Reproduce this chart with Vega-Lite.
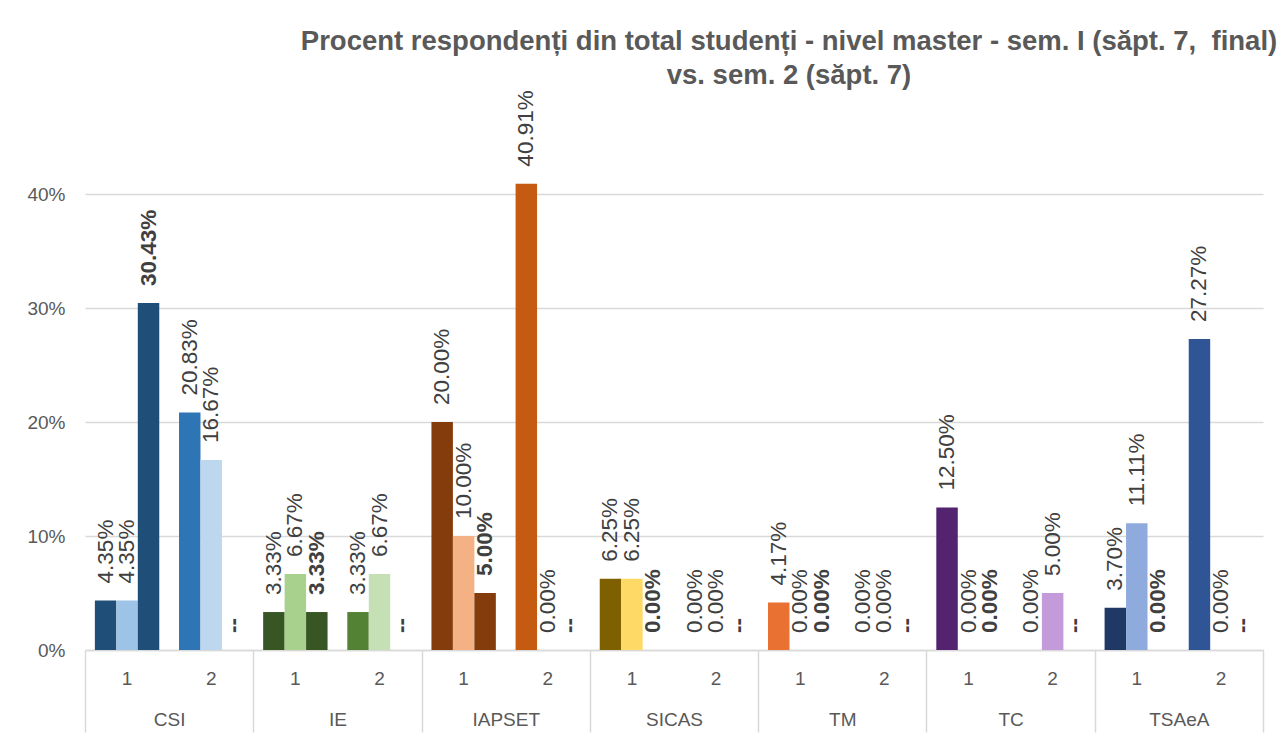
{
  "$schema": "https://vega.github.io/schema/vega-lite/v6.json",
  "width": 1178,
  "height": 570,
  "autosize": {"type": "none"},
  "padding": {"left": 85, "top": 80, "right": 20, "bottom": 90},
  "background": "white",
  "config": {"view": {"stroke": null}, "font": "Liberation Sans"},
  "title": {
    "text": ["Procent respondenți din total studenți - nivel master - sem. I (săpt. 7, \u00a0final)", "vs. sem. 2 (săpt. 7)"],
    "fontSize": 27.5,
    "fontWeight": "bold",
    "color": "#595959",
    "anchor": "middle",
    "frame": "group",
    "dx": 115,
    "lineHeight": 34,
    "offset": -9
  },
  "data": {
    "values": [
      {"dept": "CSI", "year": "1", "series": "Sem. I - săpt. 7", "value": 0.0435},
      {"dept": "CSI", "year": "1", "series": "Sem. I - final", "value": 0.0435},
      {"dept": "CSI", "year": "1", "series": "Sem. 2 - săpt. 7", "value": 0.3043},
      {"dept": "CSI", "year": "2", "series": "Sem. I - săpt. 7", "value": 0.2083},
      {"dept": "CSI", "year": "2", "series": "Sem. I - final", "value": 0.1667},
      {"dept": "CSI", "year": "2", "series": "Sem. 2 - săpt. 7", "value": null},
      {"dept": "IE", "year": "1", "series": "Sem. I - săpt. 7", "value": 0.0333},
      {"dept": "IE", "year": "1", "series": "Sem. I - final", "value": 0.0667},
      {"dept": "IE", "year": "1", "series": "Sem. 2 - săpt. 7", "value": 0.0333},
      {"dept": "IE", "year": "2", "series": "Sem. I - săpt. 7", "value": 0.0333},
      {"dept": "IE", "year": "2", "series": "Sem. I - final", "value": 0.0667},
      {"dept": "IE", "year": "2", "series": "Sem. 2 - săpt. 7", "value": null},
      {"dept": "IAPSET", "year": "1", "series": "Sem. I - săpt. 7", "value": 0.20},
      {"dept": "IAPSET", "year": "1", "series": "Sem. I - final", "value": 0.10},
      {"dept": "IAPSET", "year": "1", "series": "Sem. 2 - săpt. 7", "value": 0.05},
      {"dept": "IAPSET", "year": "2", "series": "Sem. I - săpt. 7", "value": 0.4091},
      {"dept": "IAPSET", "year": "2", "series": "Sem. I - final", "value": 0},
      {"dept": "IAPSET", "year": "2", "series": "Sem. 2 - săpt. 7", "value": null},
      {"dept": "SICAS", "year": "1", "series": "Sem. I - săpt. 7", "value": 0.0625},
      {"dept": "SICAS", "year": "1", "series": "Sem. I - final", "value": 0.0625},
      {"dept": "SICAS", "year": "1", "series": "Sem. 2 - săpt. 7", "value": 0},
      {"dept": "SICAS", "year": "2", "series": "Sem. I - săpt. 7", "value": 0},
      {"dept": "SICAS", "year": "2", "series": "Sem. I - final", "value": 0},
      {"dept": "SICAS", "year": "2", "series": "Sem. 2 - săpt. 7", "value": null},
      {"dept": "TM", "year": "1", "series": "Sem. I - săpt. 7", "value": 0.0417},
      {"dept": "TM", "year": "1", "series": "Sem. I - final", "value": 0},
      {"dept": "TM", "year": "1", "series": "Sem. 2 - săpt. 7", "value": 0},
      {"dept": "TM", "year": "2", "series": "Sem. I - săpt. 7", "value": 0},
      {"dept": "TM", "year": "2", "series": "Sem. I - final", "value": 0},
      {"dept": "TM", "year": "2", "series": "Sem. 2 - săpt. 7", "value": null},
      {"dept": "TC", "year": "1", "series": "Sem. I - săpt. 7", "value": 0.125},
      {"dept": "TC", "year": "1", "series": "Sem. I - final", "value": 0},
      {"dept": "TC", "year": "1", "series": "Sem. 2 - săpt. 7", "value": 0},
      {"dept": "TC", "year": "2", "series": "Sem. I - săpt. 7", "value": 0},
      {"dept": "TC", "year": "2", "series": "Sem. I - final", "value": 0.05},
      {"dept": "TC", "year": "2", "series": "Sem. 2 - săpt. 7", "value": null},
      {"dept": "TSAeA", "year": "1", "series": "Sem. I - săpt. 7", "value": 0.037},
      {"dept": "TSAeA", "year": "1", "series": "Sem. I - final", "value": 0.1111},
      {"dept": "TSAeA", "year": "1", "series": "Sem. 2 - săpt. 7", "value": 0},
      {"dept": "TSAeA", "year": "2", "series": "Sem. I - săpt. 7", "value": 0.2727},
      {"dept": "TSAeA", "year": "2", "series": "Sem. I - final", "value": 0},
      {"dept": "TSAeA", "year": "2", "series": "Sem. 2 - săpt. 7", "value": null}
    ]
  },
  "transform": [
    {"calculate": "datum.dept + '|' + datum.year", "as": "dk"},
    {"calculate": "datum.dept + ' ' + datum.year + ' ' + datum.series", "as": "ck"},
    {"calculate": "datum.value == null ? '--' : format(datum.value, '.2%')", "as": "lbl"},
    {"calculate": "datum.value == null ? 0 : datum.value", "as": "ypos"}
  ],
  "layer": [
    {
      "encoding": {
        "x": {
          "field": "dk", "type": "nominal", "sort": null,
          "scale": {"paddingInner": 0, "paddingOuter": 0},
          "axis": {
            "title": null, "orient": "bottom", "labelExpr": "split(datum.label, '|')[1]",
            "labelAngle": 0, "labelPadding": 19, "labelFontSize": 19, "labelColor": "#595959",
            "ticks": false, "domain": true, "domainColor": "#D9D9D9", "domainWidth": 1.5, "grid": false
          }
        },
        "xOffset": {
          "field": "series", "type": "nominal",
          "sort": ["Sem. I - săpt. 7", "Sem. I - final", "Sem. 2 - săpt. 7"],
          "scale": {"paddingInner": 0, "paddingOuter": 0.46}
        }
      },
      "layer": [
        {
          "mark": {"type": "bar"},
          "encoding": {
            "y": {
              "field": "value", "type": "quantitative",
              "scale": {"domain": [0, 0.5], "nice": false},
              "axis": {
                "title": null, "values": [0, 0.1, 0.2, 0.3, 0.4], "format": ".0%",
                "grid": true, "gridColor": "#D9D9D9", "gridWidth": 1.5,
                "domain": false, "ticks": false, "labelPadding": 20,
                "labelFontSize": 19, "labelColor": "#595959"
              }
            },
            "color": {
              "field": "ck", "type": "nominal", "legend": null,
              "scale": {
                "domain": [
                  "CSI 1 Sem. I - săpt. 7", "CSI 1 Sem. I - final", "CSI 1 Sem. 2 - săpt. 7",
                  "CSI 2 Sem. I - săpt. 7", "CSI 2 Sem. I - final",
                  "IE 1 Sem. I - săpt. 7", "IE 1 Sem. I - final", "IE 1 Sem. 2 - săpt. 7",
                  "IE 2 Sem. I - săpt. 7", "IE 2 Sem. I - final",
                  "IAPSET 1 Sem. I - săpt. 7", "IAPSET 1 Sem. I - final", "IAPSET 1 Sem. 2 - săpt. 7",
                  "IAPSET 2 Sem. I - săpt. 7",
                  "SICAS 1 Sem. I - săpt. 7", "SICAS 1 Sem. I - final",
                  "TM 1 Sem. I - săpt. 7",
                  "TC 1 Sem. I - săpt. 7", "TC 2 Sem. I - final",
                  "TSAeA 1 Sem. I - săpt. 7", "TSAeA 1 Sem. I - final",
                  "TSAeA 2 Sem. I - săpt. 7"
                ],
                "range": [
                  "#1F4E79", "#9DC3E6", "#1F4E79",
                  "#2E75B6", "#BDD7EE",
                  "#375623", "#A9D18E", "#375623",
                  "#548235", "#C5E0B4",
                  "#843C0C", "#F4B183", "#843C0C",
                  "#C55A11",
                  "#7F6000", "#FFD966",
                  "#E97132",
                  "#532370", "#C39BDB",
                  "#203864", "#8FAADC",
                  "#2F5597"
                ]
              }
            }
          }
        },
        {
          "transform": [{"filter": "datum.series != 'Sem. 2 - săpt. 7'"}],
          "mark": {"type": "text", "angle": 270, "align": "left", "baseline": "middle", "dx": 17, "fontSize": 22.5, "color": "#404040"},
          "encoding": {
            "y": {"field": "ypos", "type": "quantitative"},
            "text": {"field": "lbl", "type": "nominal"}
          }
        },
        {
          "transform": [{"filter": "datum.series == 'Sem. 2 - săpt. 7'"}],
          "mark": {"type": "text", "angle": 270, "align": "left", "baseline": "middle", "dx": 17, "fontSize": 22.5, "fontWeight": "bold", "color": "#404040"},
          "encoding": {
            "y": {"field": "ypos", "type": "quantitative"},
            "text": {"field": "lbl", "type": "nominal"}
          }
        }
      ]
    },
    {
      "mark": {"type": "point", "opacity": 0},
      "encoding": {
        "x": {
          "field": "dept", "type": "nominal", "sort": null,
          "scale": {"paddingInner": 0, "paddingOuter": 0},
          "axis": {
            "title": null, "orient": "bottom", "labelAngle": 0,
            "tickBand": "extent", "ticks": true, "tickSize": 82, "tickColor": "#D9D9D9", "tickWidth": 1.5,
            "domain": false, "grid": false,
            "labelPadding": -22, "labelFontSize": 19, "labelColor": "#595959"
          }
        }
      }
    }
  ],
  "resolve": {"scale": {"x": "independent"}, "axis": {"x": "independent"}}
}
